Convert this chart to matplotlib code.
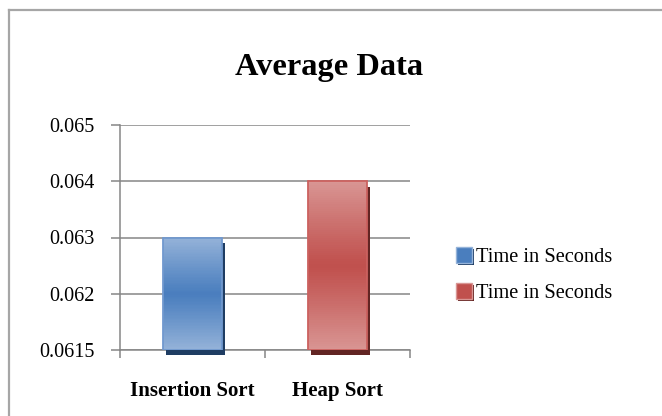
import numpy as np
import matplotlib
matplotlib.use('Agg')
import matplotlib.pyplot as plt
from matplotlib.patches import Patch
from matplotlib.lines import Line2D
import matplotlib.patheffects as pe

# chart data
categories = ['Insertion Sort', 'Heap Sort']
values = [0.063, 0.064]
series_labels = ['Time in Seconds', 'Time in Seconds']
tick_values = [0.0615, 0.062, 0.063, 0.064, 0.065]
tick_labels = ['0.0615', '0.062', '0.063', '0.064', '0.065']

light = ['#95b3d9', '#d99694']
dark = ['#4a7ebe', '#c0504d']
edges = ['#7199cf', '#cc615f']
shadows = ['#1f3d63', '#622523']

plt.rcParams['font.family'] = ['Liberation Serif', 'DejaVu Serif']

# excel puts the gridlines at equal steps, so map the tick levels evenly
steps = np.arange(len(tick_values))
def fwd(v):
    return np.interp(v, tick_values, steps)
def inv(v):
    return np.interp(v, steps, tick_values)

fig = plt.figure(figsize=(6.62, 4.16), dpi=100)
ax = fig.add_axes([120/662, 1-350/416, 290/662, 225/416])
ax.set_yscale('function', functions=(fwd, inv))

x = np.arange(len(categories))
width = 0.41
base = tick_values[0]
nslice = 80
for i in range(len(categories)):
    # base bar carries the shadow
    ax.bar(x[i], values[i] - base, width, bottom=base, color=dark[i],
           clip_on=False, zorder=3,
           path_effects=[pe.SimplePatchShadow(offset=(2.2, -3.8),
                                              shadow_rgbFace=shadows[i], alpha=1.0),
                         pe.Normal()])
    # gradient: light at top and bottom, dark in the middle
    b = inv(np.linspace(fwd(base), fwd(values[i]), nslice + 1))
    c0 = np.array(matplotlib.colors.to_rgb(light[i]))
    c1 = np.array(matplotlib.colors.to_rgb(dark[i]))
    for k in range(nslice):
        s = (k + 0.5) / nslice
        t = abs(2*s - 1) ** 1.1
        col = c1 + (c0 - c1) * t
        ax.bar(x[i], b[k+1] - b[k], width, bottom=b[k], color=col,
               linewidth=0, zorder=4)
    ax.bar(x[i], values[i] - base, width, bottom=base, facecolor='none',
           edgecolor=edges[i], linewidth=1.3, zorder=5)

ax.set_xlim(-0.5, 1.5)
ax.set_ylim(tick_values[0], tick_values[-1])
ax.set_yticks(tick_values)
ax.set_yticklabels(tick_labels)
ax.set_xticks(x)
ax.set_xticklabels(categories, fontweight='bold')
ax.set_xticks([-0.5, 0.5, 1.5], minor=True)
ax.tick_params(axis='x', which='major', length=0, pad=22, labelsize=15)
ax.tick_params(axis='x', which='minor', length=6, width=1.1, color='#868686')
ax.tick_params(axis='y', length=6.5, width=1.1, color='#868686', pad=12, labelsize=14.5)
for lab in ax.get_yticklabels():
    lab.set_horizontalalignment('right')

ax.grid(axis='y', color='#868686', linewidth=1.1, zorder=0)
ax.set_axisbelow(True)
for side in ['top', 'right']:
    ax.spines[side].set_visible(False)
for side in ['left', 'bottom']:
    ax.spines[side].set_color('#868686')
    ax.spines[side].set_linewidth(1.1)

fig.text(329/662, 1-68/416, 'Average Data', ha='center', va='center',
         fontsize=23.3, fontweight='bold')

handles = [Patch(facecolor=dark[i], edgecolor=light[i], linewidth=1.0,
                 path_effects=[pe.SimplePatchShadow(offset=(1.5, -1.5),
                                                    shadow_rgbFace=shadows[i], alpha=1.0),
                               pe.Normal()])
           for i in range(len(series_labels))]
fig.legend(handles, series_labels, loc='center left',
           bbox_to_anchor=(446/662, 1-275/416), frameon=False, fontsize=14.7,
           handlelength=0.75, handleheight=0.8, handletextpad=0.2,
           labelspacing=0.8, borderpad=0)

# chart area border (only left and top visible)
fig.add_artist(Line2D([9/662, 9/662], [0, 1-10/416], color='#a6a6a6', linewidth=1.6))
fig.add_artist(Line2D([9/662, 1], [1-10/416, 1-10/416], color='#a6a6a6', linewidth=1.6))

fig.savefig('out.png', dpi=100)
